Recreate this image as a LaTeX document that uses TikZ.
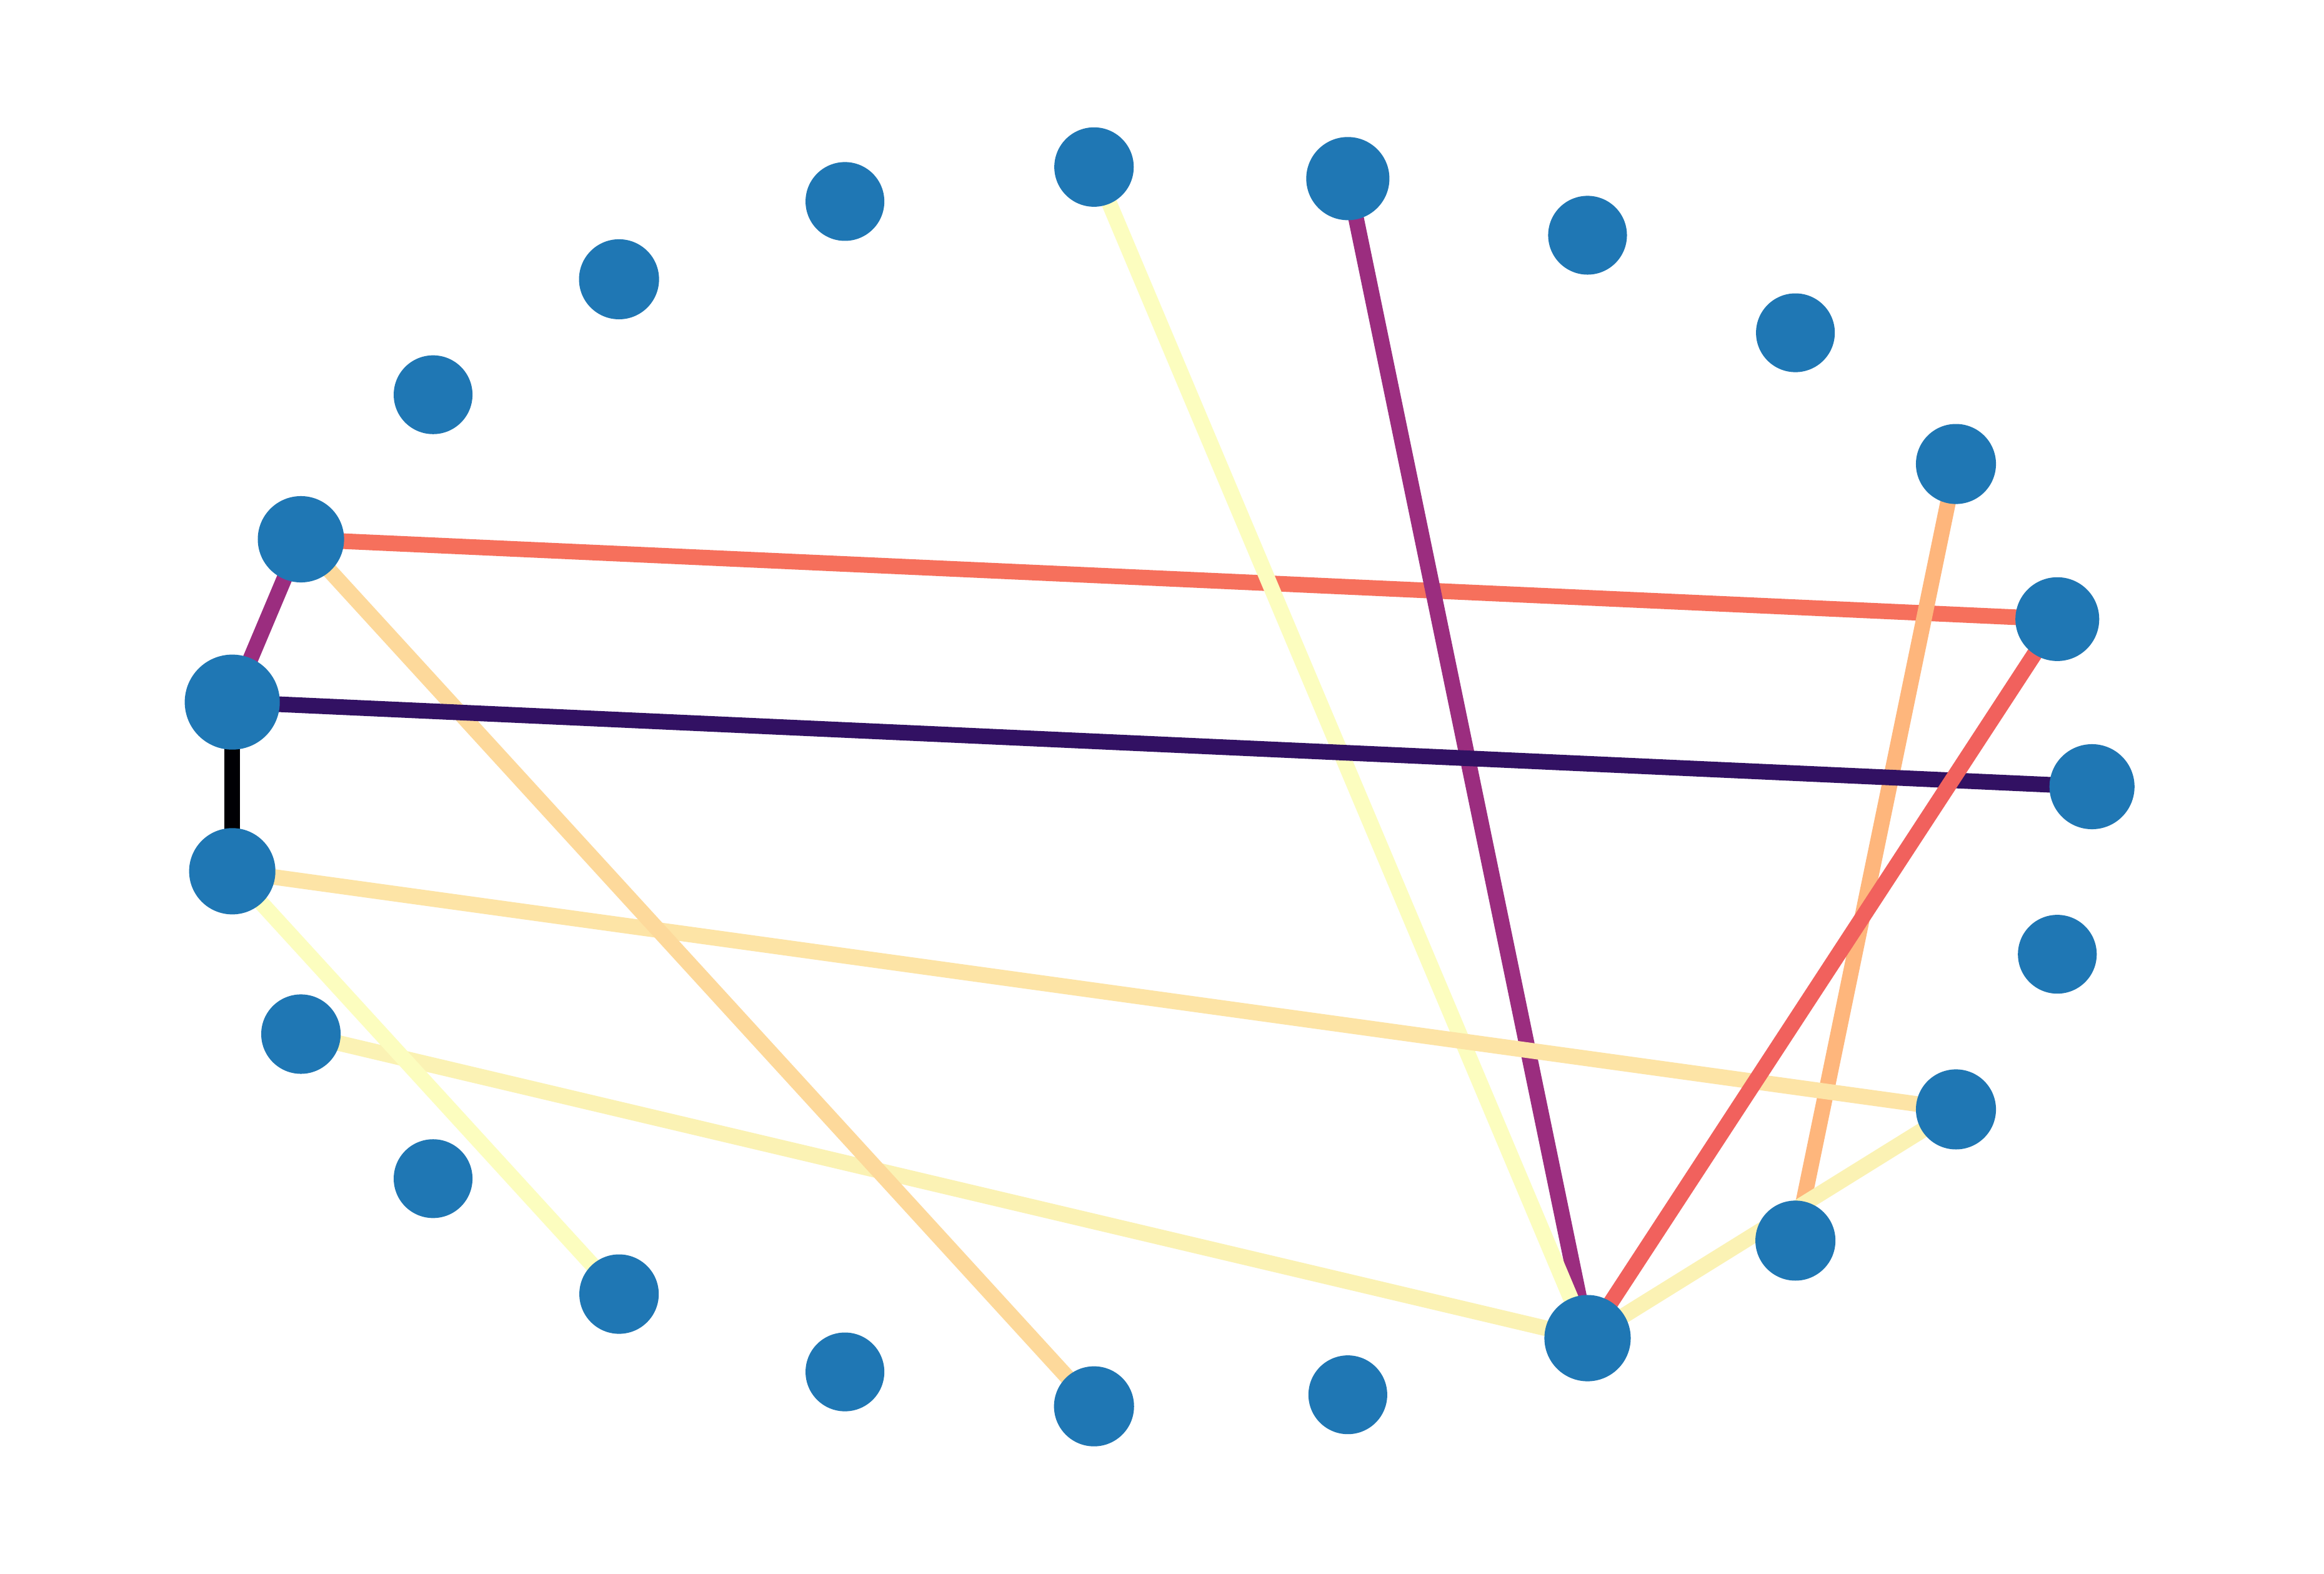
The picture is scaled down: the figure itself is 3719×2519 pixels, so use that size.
\documentclass[tikz,border=0pt]{standalone}
\usetikzlibrary{backgrounds}
\definecolor{nodeblue}{HTML}{1F77B4}
\definecolor{cA}{HTML}{F6705C}
\definecolor{cB}{HTML}{9B2D7F}
\definecolor{cC}{HTML}{FCFDBF}
\definecolor{cD}{HTML}{FEB67C}
\definecolor{cE}{HTML}{FBF2B4}
\definecolor{cF}{HTML}{FDE4A6}
\definecolor{cG}{HTML}{FDD99B}
\definecolor{cH}{HTML}{000004}
\definecolor{cI}{HTML}{321163}
\definecolor{cJ}{HTML}{F1615D}
\begin{document}
\begin{tikzpicture}[x=0.01cm,y=-0.01cm,
  vtx/.style={circle,fill=nodeblue,inner sep=0pt,draw=none},
  edge/.style={line width=0.25cm}]
\useasboundingbox (0,0) rectangle (3719,2519);
\foreach \n/\r in {1/63.5,2/66.5,3/63,4/63,5/64,6/67,7/68,8/63,9/64,10/64,11/69,12/63,13/64,14/63,15/63.5,16/63,17/63.5,18/69,19/76,20/69,21/63,22/64,23/63} {
  \pgfmathsetmacro\a{360*(7-\n)/23}
  \pgfmathsetmacro\d{\r*0.02}
  \node[vtx,minimum size=\d cm] (n\n) at ({1852.7+1495*cos(\a)},{1259-994*sin(\a)}) {};
}
\begin{scope}[on background layer]
\fill[white] (0,0) rectangle (3719,2519);
\draw[edge,draw=cA] (n20.center) -- (n6.center);
\draw[edge,draw=cB] (n2.center) -- (n11.center);
\draw[edge,draw=cC] (n1.center) -- (n11.center);
\draw[edge,draw=cD] (n5.center) -- (n10.center);
\draw[edge,draw=cE] (n17.center) -- (n11.center);
\draw[edge,draw=cC] (n18.center) -- (n15.center);
\draw[edge,draw=cF] (n18.center) -- (n9.center);
\draw[edge,draw=cG] (n20.center) -- (n13.center);
\draw[edge,draw=cE] (n11.center) -- (n9.center);
\draw[edge,draw=cB] (n19.center) -- (n20.center);
\draw[edge,draw=cH] (n19.center) -- (n18.center);
\draw[edge,draw=cI] (n19.center) -- (n7.center);
\draw[edge,draw=cJ] (n6.center) -- (n11.center);
\end{scope}
\end{tikzpicture}
\end{document}
